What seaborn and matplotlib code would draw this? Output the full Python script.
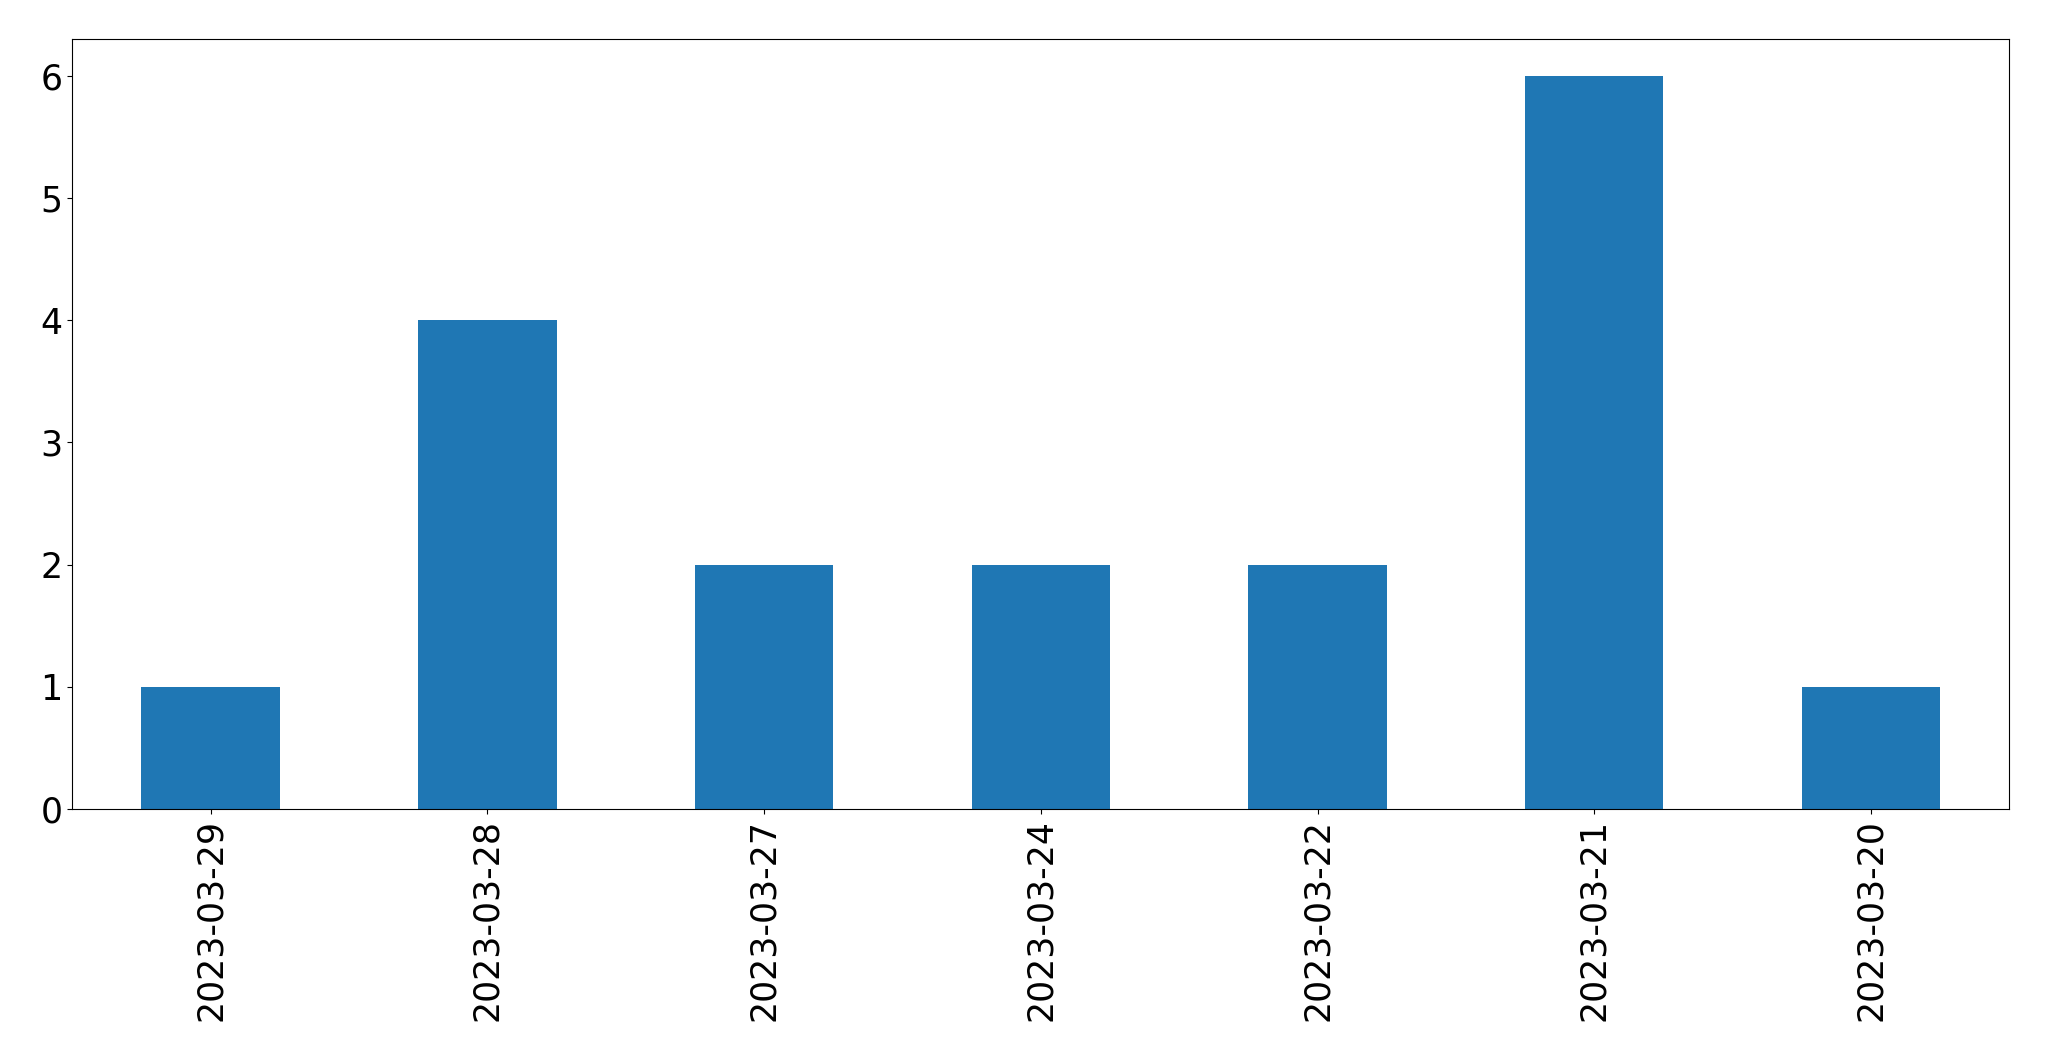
import matplotlib
matplotlib.use("Agg")
import matplotlib.pyplot as plt
import seaborn as sns
import pandas as pd

dates = ["2023-03-29", "2023-03-28", "2023-03-27", "2023-03-24", "2023-03-22", "2023-03-21", "2023-03-20"]
counts = [1, 4, 2, 2, 2, 6, 1]

df = pd.DataFrame({"date": dates, "count": counts})

fig = plt.figure(figsize=(20.49, 10.61), dpi=100)
ax = fig.add_axes([72.3 / 2049, (1061 - 809) / 1061, 1937 / 2049, 770 / 1061])
sns.barplot(data=df, x="date", y="count", order=dates, color="#1f77b4",
            saturation=1, width=0.5, ax=ax, errorbar=None)
ax.set_xlim(-0.5, len(dates) - 0.5)
ax.set_ylim(0, 6.3)
ax.set_xlabel("")
ax.set_ylabel("")
ax.tick_params(axis="both", labelsize=25)
ax.tick_params(axis="x", rotation=90)
fig.savefig("out.png", dpi=100)
